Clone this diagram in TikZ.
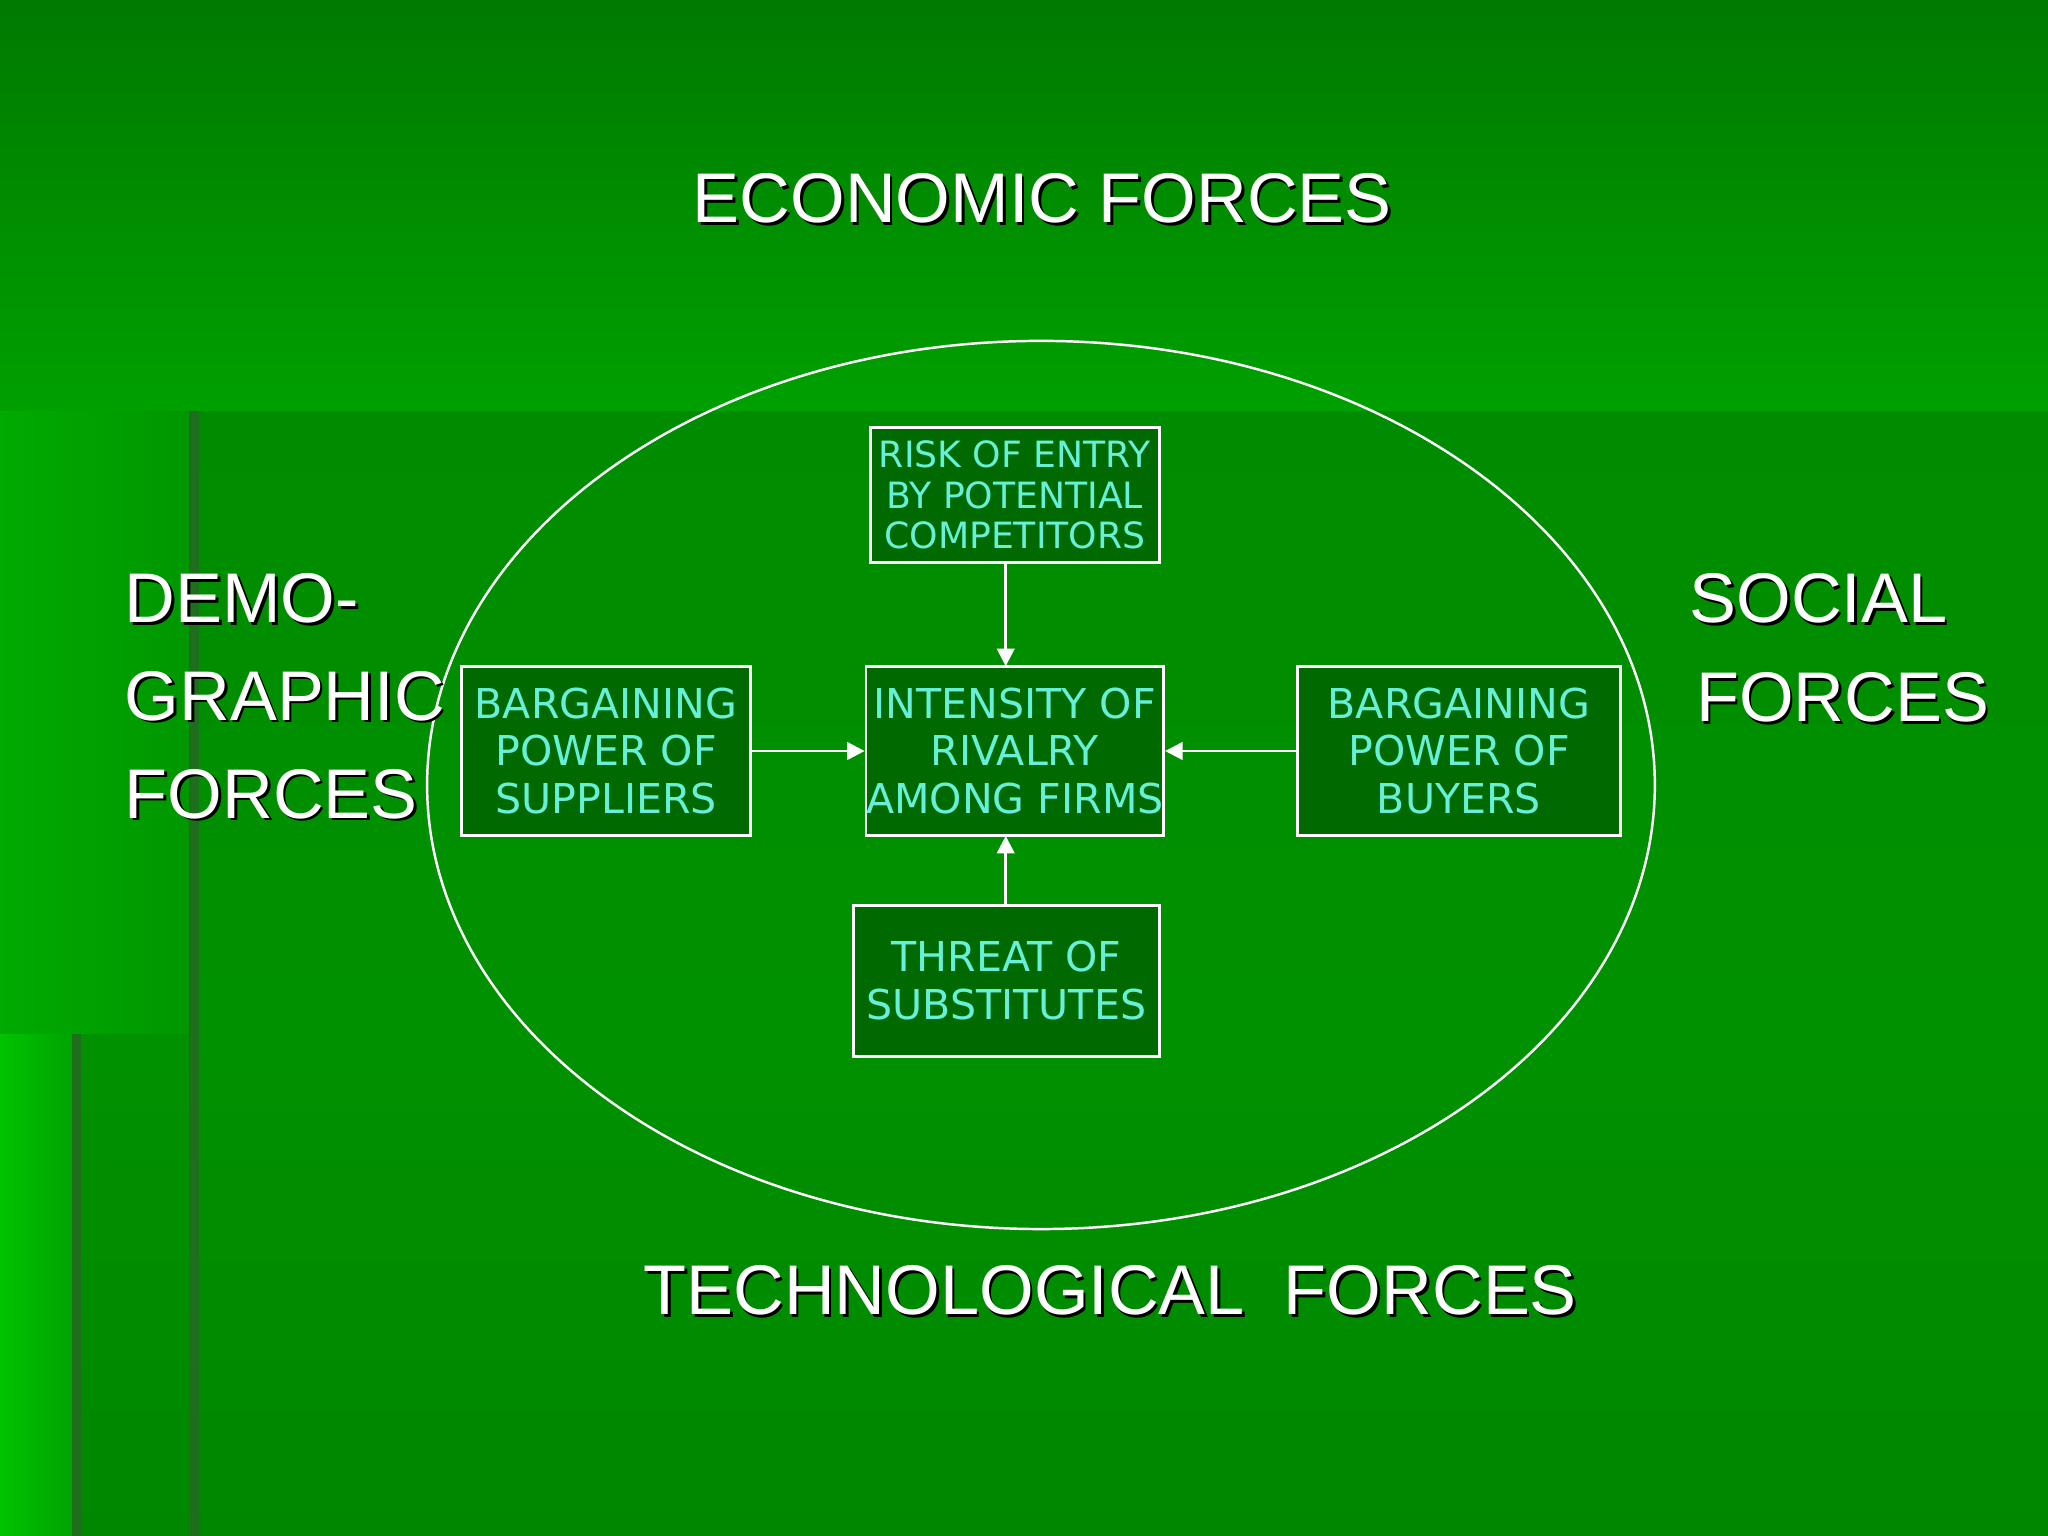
\documentclass[tikz,border=0pt]{standalone}
\usepackage{fontspec}
\setmainfont{Liberation Sans}
\newfontfamily\boxfont{DejaVu Sans}
\usetikzlibrary{arrows.meta,calc}
\definecolor{cyantxt}{HTML}{66F0D8}
\definecolor{boxfill}{HTML}{006A00}
\definecolor{edgegreen}{RGB}{30,110,30}
\definecolor{g1}{RGB}{0,122,0}
\definecolor{g2}{RGB}{0,160,0}
\definecolor{g3}{RGB}{0,170,0}
\definecolor{g4}{RGB}{0,150,0}
\definecolor{g5}{RGB}{0,140,0}
\definecolor{g6}{RGB}{0,145,0}
\definecolor{g7}{RGB}{0,195,0}
\definecolor{g8}{RGB}{0,135,0}
\begin{document}
\begin{tikzpicture}[x=0.013061cm,y=-0.013061cm,
  fbox/.style={draw=white,line width=0.8pt,fill=boxfill,text=cyantxt,font=\boxfont\fontsize{10.3}{11.6}\selectfont,align=center,inner sep=0pt},
  mbox/.style={fbox,font=\boxfont\fontsize{11.7}{13.6}\selectfont},
  big/.style={font=\fontsize{20}{27.5}\selectfont,align=left,inner sep=0pt},
  arr/.style={white,line width=0.8pt,-{Triangle[length=5pt,width=5pt]}}]
\useasboundingbox (0,0) rectangle (1568,1176);
\shade[top color=g1,bottom color=g2] (0,0) rectangle (1568,315);
\shade[left color=g3,right color=g4] (0,315) rectangle (150,792);
\shade[top color=g5,bottom color=g6] (150,315) rectangle (1568,792);
\shade[left color=g7,right color=g2] (0,792) rectangle (60,1176);
\shade[top color=g6,bottom color=g8] (60,792) rectangle (1568,1176);
\fill[edgegreen] (145,315) rectangle (152,1176);
\fill[edgegreen] (55,792) rectangle (62,1176);
\draw[white,line width=0.7pt] (797,601) ellipse [x radius=470,y radius=340];
\node[fbox,minimum width=82.3pt,minimum height=38.5pt] (risk) at (777,379) {RISK OF ENTRY\\BY POTENTIAL\\COMPETITORS};
\node[mbox,minimum width=82.3pt,minimum height=48.2pt] (rival) at (777,575) {INTENSITY OF\\RIVALRY\\AMONG FIRMS};
\node[mbox,minimum width=82.3pt,minimum height=48.2pt] (sup) at (464,575) {BARGAINING\\POWER OF\\SUPPLIERS};
\node[mbox,minimum width=91.9pt,minimum height=48.2pt] (buy) at (1117,575) {BARGAINING\\POWER OF\\BUYERS};
\node[mbox,minimum width=87.1pt,minimum height=43pt] (thr) at (770.5,751) {THREAT OF\\SUBSTITUTES};
\coordinate (rt) at (770,431); \coordinate (ri) at (770,510);
\coordinate (tb) at (770,693); \coordinate (ib) at (770,640);
\draw[arr] (rt) -- (ri);
\draw[arr] (tb) -- (ib);
\draw[arr] (sup.east) -- (rival.west);
\draw[arr] (buy.west) -- (rival.east);
\foreach \c/\o in {black/2,white/0}{
\node[big,text=\c,anchor=center] at (798+\o,152+\o) {ECONOMIC FORCES};
\node[big,text=\c,anchor=center] at (850+\o,988+\o) {TECHNOLOGICAL\ \ FORCES};
\node[big,text=\c,anchor=west,font=\fontsize{20}{27.8}\selectfont] at (95+\o,533+\o) {DEMO-\\GRAPHIC\\FORCES};
\node[big,text=\c,anchor=west] at (1293+\o,458+\o) {SOCIAL};
\node[big,text=\c,anchor=west] at (1298+\o,534+\o) {FORCES};
}
\end{tikzpicture}
\end{document}
